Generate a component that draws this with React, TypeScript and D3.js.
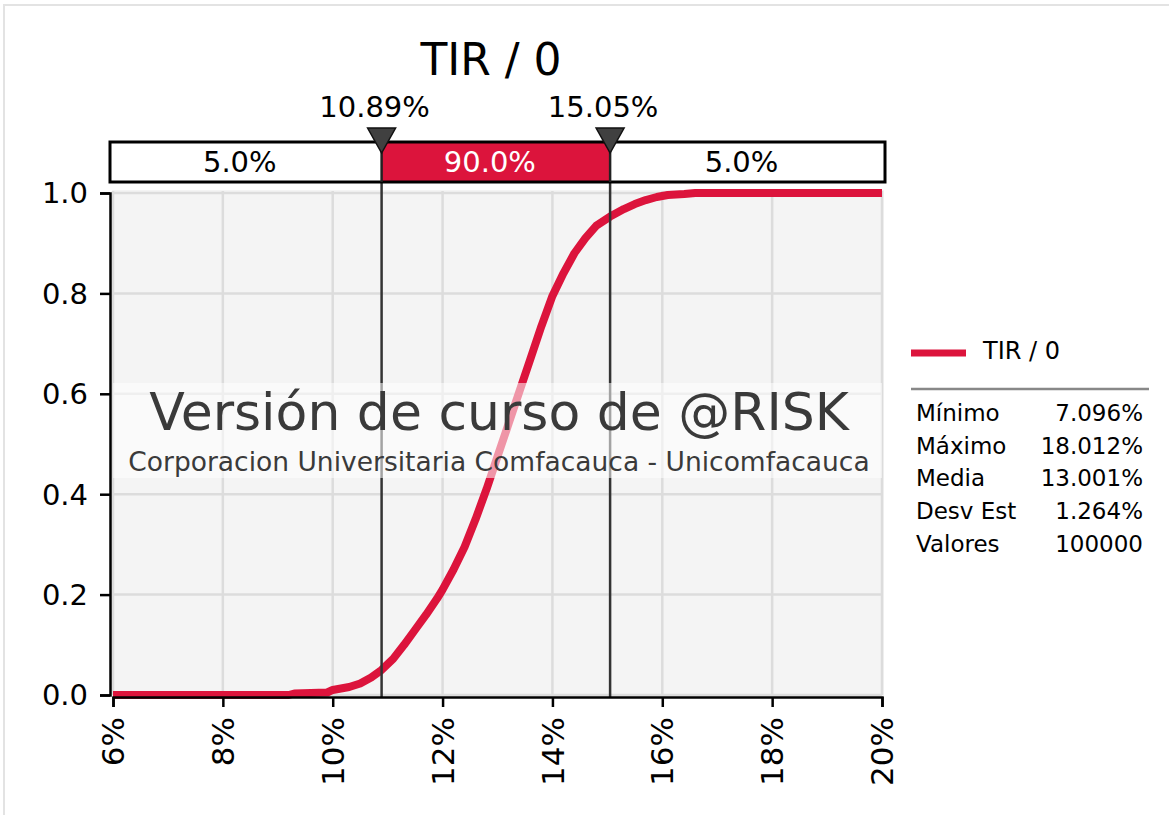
import React, { useRef, useEffect } from "react";
import * as d3 from "d3";

// cumulative curve (x in %, probability)
const tirX = [
  6.0, 9.2, 9.3, 9.9, 10.0, 10.3, 10.5, 10.7, 10.89, 11.1, 11.3, 11.5, 11.7,
  11.9, 12.0, 12.2, 12.4, 12.6, 12.8, 13.0, 13.2, 13.4, 13.6, 13.8, 14.0, 14.2,
  14.4, 14.6, 14.8, 15.05, 15.3, 15.5, 15.7, 15.9, 16.1, 16.4, 16.6, 20.0,
];
const tirCdf = [
  0, 0, 0.003, 0.005, 0.01, 0.016, 0.023, 0.035, 0.05, 0.072, 0.1, 0.13, 0.16,
  0.192, 0.21, 0.25, 0.295, 0.35, 0.41, 0.475, 0.54, 0.605, 0.67, 0.735, 0.795,
  0.84, 0.88, 0.91, 0.935, 0.953, 0.968, 0.978, 0.986, 0.992, 0.996, 0.998, 1.0,
  1.0,
];

const xTicks = [6, 8, 10, 12, 14, 16, 18, 20];
const yTicks = [0, 0.2, 0.4, 0.6, 0.8, 1.0];
const quantileValues = [10.89, 15.05];
const quantileLabels = ["10.89%", "15.05%"];
const bandLabels = ["5.0%", "90.0%", "5.0%"];
const statNames = ["Mínimo", "Máximo", "Media", "Desv Est", "Valores"];
const statValues = ["7.096%", "18.012%", "13.001%", "1.264%", "100000"];

const W = 1169;
const H = 815;
const FONT = "'DejaVu Sans', Verdana, sans-serif";
const RED = "#dc143c";

export default function App() {
  const ref = useRef<SVGSVGElement>(null);

  useEffect(() => {
    const svg = d3.select(ref.current);
    svg.selectAll("*").remove();

    const x = d3.scaleLinear().domain([6, 20]).range([113, 882]);
    const y = d3.scaleLinear().domain([0, 1]).range([695, 193]);

    // outer frame
    svg
      .append("rect")
      .attr("x", 4)
      .attr("y", 5)
      .attr("width", W)
      .attr("height", H)
      .attr("fill", "#fff")
      .attr("stroke", "#e3e3e3")
      .attr("stroke-width", 2);

    // plot background
    svg
      .append("rect")
      .attr("x", x(6) - 1)
      .attr("y", y(1) - 3)
      .attr("width", x(20) - x(6) + 3)
      .attr("height", y(0) - y(1) + 4)
      .attr("fill", "#f4f4f4");

    // grid
    const grid = svg.append("g").attr("stroke", "#dcdcdc").attr("stroke-width", 2.5);
    xTicks.forEach((t) => {
      grid
        .append("line")
        .attr("x1", x(t))
        .attr("x2", x(t))
        .attr("y1", y(1) - 2)
        .attr("y2", y(0));
    });
    yTicks.forEach((t) => {
      grid
        .append("line")
        .attr("x1", x(6))
        .attr("x2", x(20))
        .attr("y1", y(t))
        .attr("y2", y(t));
    });

    // curve
    const pts: [number, number][] = tirX.map((v, i) => [v, tirCdf[i]]);
    const line = d3
      .line<[number, number]>()
      .x((d) => x(d[0]))
      .y((d) => y(d[1]));
    svg
      .append("path")
      .attr("d", line(pts))
      .attr("fill", "none")
      .attr("stroke", RED)
      .attr("stroke-width", 8)
      .attr("stroke-linejoin", "round");

    // quantile lines
    quantileValues.forEach((q) => {
      svg
        .append("line")
        .attr("x1", x(q))
        .attr("x2", x(q))
        .attr("y1", 182)
        .attr("y2", y(0) + 2)
        .attr("stroke", "#333")
        .attr("stroke-width", 2.5);
    });

    // watermark
    svg
      .append("rect")
      .attr("x", x(6))
      .attr("y", 383)
      .attr("width", x(20) - x(6))
      .attr("height", 95)
      .attr("fill", "#fff")
      .attr("opacity", 0.55);
    svg
      .append("text")
      .attr("x", 499)
      .attr("y", 430)
      .attr("text-anchor", "middle")
      .attr("font-family", FONT)
      .attr("font-size", 52)
      .attr("fill", "#3a3a3a")
      .text("Versión de curso de @RISK");
    svg
      .append("text")
      .attr("x", 499)
      .attr("y", 471)
      .attr("text-anchor", "middle")
      .attr("font-family", FONT)
      .attr("font-size", 26.5)
      .attr("fill", "#3a3a3a")
      .text("Corporacion Universitaria Comfacauca - Unicomfacauca");

    // y axis
    const yAxis = svg
      .append("g")
      .attr("transform", "translate(110,0)")
      .call(d3.axisLeft(y).tickValues(yTicks).tickSize(10).tickSizeOuter(10).tickFormat(() => ""));
    yAxis.selectAll("path, line").attr("stroke", "#000").attr("stroke-width", 2.5);
    yTicks.forEach((t) => {
      svg
        .append("text")
        .attr("x", 88)
        .attr("y", y(t))
        .attr("dy", "0.36em")
        .attr("text-anchor", "end")
        .attr("font-family", FONT)
        .attr("font-size", 29)
        .attr("fill", "#000")
        .text(d3.format(".1f")(t));
    });

    // x axis
    const xAxis = svg
      .append("g")
      .attr("transform", `translate(0,${y(0) + 2})`)
      .call(d3.axisBottom(x).tickValues(xTicks).tickSize(10).tickSizeOuter(10).tickFormat(() => ""));
    xAxis.selectAll("path, line").attr("stroke", "#000").attr("stroke-width", 2.5);
    xTicks.forEach((t) => {
      svg
        .append("text")
        .attr("transform", `translate(${x(t)},717) rotate(-90)`)
        .attr("dy", "0.36em")
        .attr("text-anchor", "end")
        .attr("font-family", FONT)
        .attr("font-size", 31)
        .attr("fill", "#000")
        .text(t + "%");
    });

    // percentile band
    const edges = [110, x(quantileValues[0]), x(quantileValues[1]), 885];
    bandLabels.forEach((lab, i) => {
      svg
        .append("rect")
        .attr("x", edges[i])
        .attr("y", 142)
        .attr("width", edges[i + 1] - edges[i])
        .attr("height", 40)
        .attr("fill", i === 1 ? RED : "#fff");
      svg
        .append("text")
        .attr("x", (edges[i] + edges[i + 1]) / 2 - 6)
        .attr("y", 172)
        .attr("text-anchor", "middle")
        .attr("font-family", FONT)
        .attr("font-size", 29)
        .attr("fill", i === 1 ? "#fff" : "#000")
        .text(lab);
    });
    svg
      .append("rect")
      .attr("x", 110)
      .attr("y", 142)
      .attr("width", 775)
      .attr("height", 40)
      .attr("fill", "none")
      .attr("stroke", "#000")
      .attr("stroke-width", 3);
    quantileValues.forEach((q) => {
      svg
        .append("line")
        .attr("x1", x(q))
        .attr("x2", x(q))
        .attr("y1", 142)
        .attr("y2", 182)
        .attr("stroke", "#222")
        .attr("stroke-width", 2.5);
    });

    // markers + labels
    quantileValues.forEach((q, i) => {
      const cx = x(q);
      svg
        .append("path")
        .attr("d", `M${cx - 14},128 L${cx + 14},128 L${cx},153 Z`)
        .attr("fill", "#404040")
        .attr("stroke", "#111")
        .attr("stroke-width", 1.5);
      svg
        .append("text")
        .attr("x", cx - 7)
        .attr("y", 117)
        .attr("text-anchor", "middle")
        .attr("font-family", FONT)
        .attr("font-size", 29)
        .attr("fill", "#000")
        .text(quantileLabels[i]);
    });

    // title
    svg
      .append("text")
      .attr("x", 491)
      .attr("y", 75)
      .attr("text-anchor", "middle")
      .attr("font-family", FONT)
      .attr("font-size", 44)
      .attr("fill", "#000")
      .text("TIR / 0");

    // legend
    svg
      .append("line")
      .attr("x1", 911)
      .attr("x2", 966)
      .attr("y1", 353)
      .attr("y2", 353)
      .attr("stroke", RED)
      .attr("stroke-width", 7);
    svg
      .append("text")
      .attr("x", 983)
      .attr("y", 359)
      .attr("font-family", FONT)
      .attr("font-size", 24)
      .attr("fill", "#000")
      .text("TIR / 0");
    svg
      .append("line")
      .attr("x1", 911)
      .attr("x2", 1149)
      .attr("y1", 389)
      .attr("y2", 389)
      .attr("stroke", "#888")
      .attr("stroke-width", 2.5);

    // statistics
    statNames.forEach((name, i) => {
      const by = 421 + i * 32.7;
      svg
        .append("text")
        .attr("x", 916)
        .attr("y", by)
        .attr("font-family", FONT)
        .attr("font-size", 23)
        .attr("fill", "#000")
        .text(name);
      svg
        .append("text")
        .attr("x", 1143)
        .attr("y", by)
        .attr("text-anchor", "end")
        .attr("font-family", FONT)
        .attr("font-size", 23)
        .attr("fill", "#000")
        .text(statValues[i]);
    });
  }, []);

  return (
    <svg
      ref={ref}
      width={W}
      height={H}
      style={{ position: "absolute", left: 0, top: 0, display: "block" }}
    />
  );
}
